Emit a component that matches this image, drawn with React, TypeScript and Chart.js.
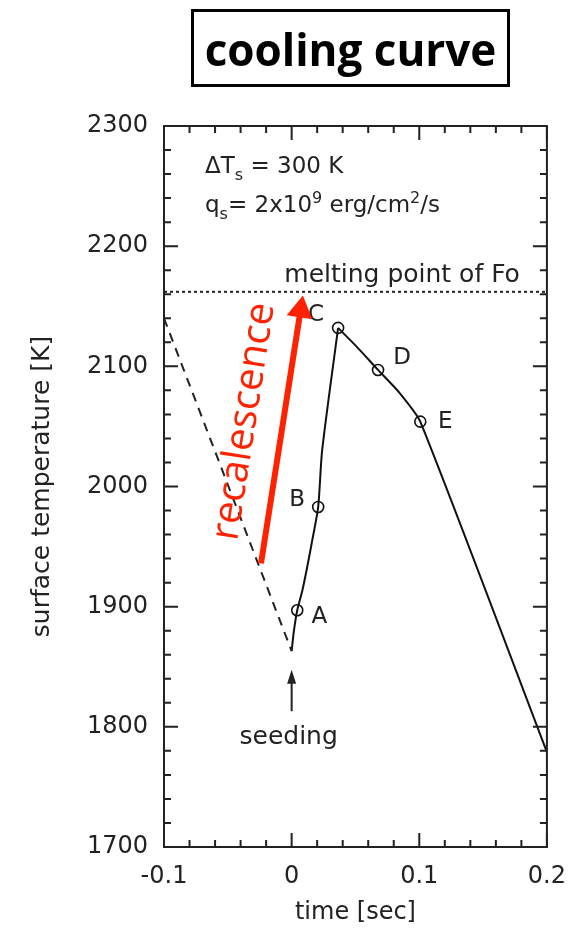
import React, { useEffect, useRef } from 'react';
import { Chart, registerables } from 'chart.js';

Chart.register(...registerables);

// ---------- data ----------
const xTicks = [-0.1, 0, 0.1, 0.2];
const yTicks = [1700, 1800, 1900, 2000, 2100, 2200, 2300];
const xMinorStep = 0.02;
const yMinorStep = 20;

const supercooledX = [-0.1, 0];
const supercooledY = [2140, 1863];

// recalescence branch (seeding -> C)
const riseX = [0, 0.0018, 0.0044, 0.0083, 0.0122, 0.0161, 0.0208, 0.0239, 0.0364];
const riseY = [1863, 1880, 1897, 1913, 1933, 1955, 1983, 2030, 2132];
// cooling branch (C -> end)
const fallX = [0.0364, 0.0513, 0.0677, 0.0845, 0.1008, 0.2];
const fallY = [2132, 2116, 2097, 2078, 2054, 1779];

const markerX = [0.0044, 0.0208, 0.0364, 0.0677, 0.1008];
const markerY = [1897, 1983, 2132, 2097, 2054];
const markerLabels = ['A', 'B', 'C', 'D', 'E'];

const meltingX = [-0.1, 0.2];
const meltingY = [2162, 2162];
const meltingLabel = 'melting point of Fo';

const seedingX = 0;
const seedingArrowY = [1813, 1847.5];
const seedingLabel = 'seeding';

const recalArrowX = [-0.024, 0.0088];
const recalArrowY = [1936, 2159];
const recalLabel = 'recalescence';

const titleText = 'cooling curve';
const xTitle = 'time [sec]';
const yTitle = 'surface temperature [K]';

// ---------- styles ----------
const FONT = '"DejaVu Sans", sans-serif';
const INK = '#222';
const RED = '#ff2200';
const labelOffsets = [[22, 7], [-21, -7], [-22, -13], [24, -12], [25, 0]];

type Part = { t: string; s: number; dy: number };
function drawRich(ctx: CanvasRenderingContext2D, x: number, y: number, parts: Part[]) {
  let cx = x;
  for (const p of parts) {
    ctx.font = `${p.s}px ${FONT}`;
    ctx.fillText(p.t, cx, y + p.dy);
    cx += ctx.measureText(p.t).width;
  }
}

function arrow(ctx: CanvasRenderingContext2D, x1: number, y1: number, x2: number, y2: number, w: number, headLen: number, headHalf: number, color: string) {
  const ang = Math.atan2(y2 - y1, x2 - x1);
  const bx = x2 - Math.cos(ang) * headLen;
  const by = y2 - Math.sin(ang) * headLen;
  ctx.save();
  ctx.strokeStyle = color;
  ctx.fillStyle = color;
  ctx.lineWidth = w;
  ctx.beginPath();
  ctx.moveTo(x1, y1);
  ctx.lineTo(bx + Math.cos(ang) * 2, by + Math.sin(ang) * 2);
  ctx.stroke();
  ctx.beginPath();
  ctx.moveTo(x2, y2);
  ctx.lineTo(bx - Math.sin(ang) * headHalf, by + Math.cos(ang) * headHalf);
  ctx.lineTo(bx + Math.sin(ang) * headHalf, by - Math.cos(ang) * headHalf);
  ctx.closePath();
  ctx.fill();
  ctx.restore();
}

const framePlugin = {
  id: 'frame',
  afterDatasetsDraw(chart: any) {
    const { ctx, chartArea: a } = chart;
    const xs = chart.scales.x;
    const ys = chart.scales.y;
    ctx.save();
    ctx.strokeStyle = INK;
    ctx.lineWidth = 2;
    ctx.strokeRect(a.left, a.top, a.right - a.left, a.bottom - a.top);
    ctx.beginPath();
    const nx = Math.round((xs.max - xs.min) / xMinorStep);
    for (let i = 0; i <= nx; i++) {
      const v = xs.min + i * xMinorStep;
      const len = i % 5 === 0 ? 14 : 7;
      const px = xs.getPixelForValue(v);
      ctx.moveTo(px, a.bottom); ctx.lineTo(px, a.bottom - len);
      ctx.moveTo(px, a.top); ctx.lineTo(px, a.top + len);
    }
    const ny = Math.round((ys.max - ys.min) / yMinorStep);
    for (let i = 0; i <= ny; i++) {
      const v = ys.min + i * yMinorStep;
      const len = i % 5 === 0 ? 14 : 7;
      const py = ys.getPixelForValue(v);
      ctx.moveTo(a.left, py); ctx.lineTo(a.left + len, py);
      ctx.moveTo(a.right, py); ctx.lineTo(a.right - len, py);
    }
    ctx.stroke();
    ctx.restore();
  },
};

const notesPlugin = {
  id: 'notes',
  afterDraw(chart: any) {
    const { ctx, chartArea: a } = chart;
    const xs = chart.scales.x;
    const ys = chart.scales.y;
    ctx.save();
    ctx.fillStyle = INK;
    ctx.textBaseline = 'alphabetic';

    // parameter block
    ctx.textAlign = 'left';
    drawRich(ctx, a.left + 41, a.top + 47, [
      { t: 'ΔT', s: 23, dy: 0 },
      { t: 's', s: 16, dy: 7 },
      { t: ' = 300 K', s: 23, dy: 0 },
    ]);
    drawRich(ctx, a.left + 41, a.top + 86, [
      { t: 'q', s: 23, dy: 0 },
      { t: 's', s: 16, dy: 7 },
      { t: '= 2x10', s: 23, dy: 0 },
      { t: '9', s: 16, dy: -9 },
      { t: ' erg/cm', s: 23, dy: 0 },
      { t: '2', s: 16, dy: -9 },
      { t: '/s', s: 23, dy: 0 },
    ]);

    // melting label
    ctx.font = `25px ${FONT}`;
    ctx.textAlign = 'right';
    ctx.fillText(meltingLabel, a.right - 27, ys.getPixelForValue(meltingY[0]) - 10);

    // point labels
    ctx.font = `23px ${FONT}`;
    ctx.textAlign = 'center';
    ctx.textBaseline = 'middle';
    markerLabels.forEach((lab, i) => {
      const px = xs.getPixelForValue(markerX[i]);
      const py = ys.getPixelForValue(markerY[i]);
      ctx.fillText(lab, px + labelOffsets[i][0], py + labelOffsets[i][1]);
    });

    // seeding arrow + label
    const sx = xs.getPixelForValue(seedingX);
    arrow(ctx, sx, ys.getPixelForValue(seedingArrowY[0]), sx, ys.getPixelForValue(seedingArrowY[1]), 2, 14, 4.5, INK);
    ctx.fillStyle = INK;
    ctx.font = `25px ${FONT}`;
    ctx.textBaseline = 'alphabetic';
    ctx.textAlign = 'center';
    ctx.fillText(seedingLabel, sx - 3, ys.getPixelForValue(seedingArrowY[0]) + 33);

    // recalescence arrow + label
    const rx1 = xs.getPixelForValue(recalArrowX[0]);
    const ry1 = ys.getPixelForValue(recalArrowY[0]);
    const rx2 = xs.getPixelForValue(recalArrowX[1]);
    const ry2 = ys.getPixelForValue(recalArrowY[1]);
    arrow(ctx, rx1, ry1, rx2, ry2, 6, 22, 13, RED);
    const ang = Math.atan2(ry2 - ry1, rx2 - rx1);
    ctx.save();
    ctx.translate((rx1 + rx2) / 2, (ry1 + ry2) / 2);
    ctx.rotate(ang);
    ctx.fillStyle = RED;
    ctx.font = `40px "Open Sans", sans-serif`;
    ctx.textAlign = 'center';
    ctx.textBaseline = 'alphabetic';
    ctx.fillText(recalLabel, 2, -27);
    ctx.restore();

    ctx.restore();
  },
};

export default function App() {
  const ref = useRef<HTMLCanvasElement>(null);
  useEffect(() => {
    if (!ref.current) return;
    const chart = new Chart(ref.current, {
      type: 'line',
      data: {
        datasets: [
          {
            label: 'supercooled',
            data: supercooledX.map((x, i) => ({ x, y: supercooledY[i] })),
            borderColor: INK,
            borderWidth: 2,
            borderDash: [9, 7],
            pointRadius: 0,
            fill: false,
          },
          {
            label: 'melting point',
            data: meltingX.map((x, i) => ({ x, y: meltingY[i] })),
            borderColor: INK,
            borderWidth: 2,
            borderDash: [3, 3],
            pointRadius: 0,
            fill: false,
          },
          {
            label: 'recalescence',
            data: riseX.map((x, i) => ({ x, y: riseY[i] })),
            borderColor: '#111',
            borderWidth: 2,
            pointRadius: 0,
            tension: 0.25,
            fill: false,
          },
          {
            label: 'cooling',
            data: fallX.map((x, i) => ({ x, y: fallY[i] })),
            borderColor: '#111',
            borderWidth: 2,
            pointRadius: 0,
            tension: 0.2,
            fill: false,
          },
          {
            label: 'markers',
            data: markerX.map((x, i) => ({ x, y: markerY[i] })),
            showLine: false,
            pointRadius: 5.5,
            pointBorderWidth: 1.6,
            pointBorderColor: '#111',
            pointBackgroundColor: '#fff',
          },
        ],
      },
      options: {
        animation: false,
        responsive: false,
        devicePixelRatio: 1,
        layout: { padding: { top: 126, right: 33, bottom: 0, left: 0 } },
        plugins: { legend: { display: false }, tooltip: { enabled: false }, title: { display: false } },
        scales: {
          x: {
            type: 'linear',
            min: -0.1,
            max: 0.2,
            afterBuildTicks: (s: any) => { s.ticks = xTicks.map((v) => ({ value: v })); },
            afterFit: (s: any) => { s.height = 81; },
            grid: { display: false, drawTicks: false },
            border: { display: false },
            ticks: {
              autoSkip: false,
              maxRotation: 0,
              padding: 15,
              color: INK,
              font: { family: FONT, size: 24 },
              callback: (v: any) => (Number(v) === 0 ? '0' : String(Math.round(Number(v) * 10) / 10)),
            },
            title: { display: true, text: xTitle, color: INK, font: { family: FONT, size: 24 }, padding: { top: 0, bottom: 1 } },
          },
          y: {
            type: 'linear',
            min: 1700,
            max: 2300,
            afterBuildTicks: (s: any) => { s.ticks = yTicks.map((v) => ({ value: v })); },
            afterFit: (s: any) => { s.width = 164; },
            grid: { display: false, drawTicks: false },
            border: { display: false },
            ticks: { autoSkip: false, padding: 16, color: INK, font: { family: FONT, size: 24 }, callback: (v: any) => String(v) },
            title: { display: true, text: yTitle, color: INK, font: { family: FONT, size: 25 }, padding: { top: 27, bottom: 0 } },
          },
        },
      },
      plugins: [framePlugin, notesPlugin],
    } as any);
    return () => chart.destroy();
  }, []);

  return (
    <div style={{ position: 'absolute', left: 0, top: 0, width: 581, height: 928, background: '#fff' }}>
      <canvas ref={ref} width={581} height={928} style={{ width: 581, height: 928, display: 'block' }} />
      <div
        style={{
          position: 'absolute',
          left: 191,
          top: 9,
          width: 319,
          height: 78,
          boxSizing: 'border-box',
          border: '3px solid #000',
          display: 'flex',
          alignItems: 'center',
          justifyContent: 'center',
          fontFamily: '"Open Sans", sans-serif',
          fontWeight: 700,
          fontSize: 44,
          color: '#000',
          lineHeight: 1,
          paddingTop: 1,
        }}
      >
        {titleText}
      </div>
    </div>
  );
}
